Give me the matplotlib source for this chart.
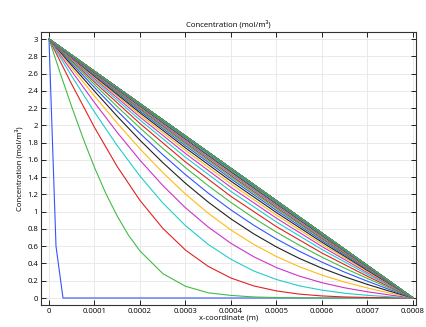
import matplotlib
matplotlib.use("Agg")
import matplotlib.pyplot as plt

# x positions (m)
x_start = [0, 0.0000154, 0.0000308, 0.0008]
x_first = [0, 0.000025, 0.00005, 0.000075, 0.0001, 0.000125, 0.00015, 0.000175, 0.0002,
           0.00025, 0.0003, 0.00035, 0.0004, 0.00045, 0.0005, 0.00055, 0.0006, 0.0008]
x_fine = [0, 0.00005, 0.0001, 0.00015, 0.0002, 0.00025, 0.0003, 0.00035, 0.0004,
          0.00045, 0.0005, 0.00055, 0.0006, 0.00065, 0.0007, 0.00075, 0.0008]
x_coarse = [0, 0.0001, 0.0002, 0.0003, 0.0004, 0.0005, 0.0006, 0.0007, 0.0008]
x_end = [0, 0.0008]

# concentration profiles (mol/m^3), one per output time
c00 = [3.0, 0.6, 0.0, 0.0]
c01 = [3.0, 2.60, 2.215, 1.849, 1.512, 1.21, 0.949, 0.725, 0.545, 0.283, 0.136, 0.06, 0.03, 0.012, 0.005, 0.002, 0.0, 0.0]
c02 = [3.0, 2.476, 1.976, 1.522, 1.130, 0.808, 0.555, 0.366, 0.231, 0.140, 0.082, 0.045, 0.024, 0.012, 0.006, 0.002, 0.0]
c03 = [3.0, 2.570, 2.155, 1.765, 1.412, 1.102, 0.838, 0.620, 0.448, 0.313, 0.214, 0.141, 0.091, 0.055, 0.031, 0.014, 0.0]
c04 = [3.0, 2.627, 2.264, 1.918, 1.596, 1.304, 1.045, 0.822, 0.633, 0.478, 0.352, 0.254, 0.177, 0.118, 0.072, 0.034, 0.0]
c05 = [3.0, 2.667, 2.340, 2.025, 1.728, 1.454, 1.204, 0.982, 0.788, 0.621, 0.480, 0.363, 0.265, 0.184, 0.116, 0.056, 0.0]
c06 = [3.0, 2.695, 2.396, 2.105, 1.828, 1.569, 1.329, 1.111, 0.916, 0.743, 0.591, 0.459, 0.345, 0.246, 0.157, 0.077, 0.0]
c07 = [3.0, 2.717, 2.439, 2.167, 1.907, 1.660, 1.429, 1.215, 1.020, 0.843, 0.684, 0.542, 0.415, 0.299, 0.194, 0.095, 0.0]
c08 = [3.0, 2.735, 2.473, 2.217, 1.970, 1.734, 1.510, 1.301, 1.106, 0.927, 0.762, 0.612, 0.473, 0.345, 0.226, 0.111, 0.0]
c09 = [3.0, 2.501, 2.021, 1.576, 1.177, 0.826, 0.521, 0.251, 0.0]
c10 = [3.0, 2.523, 2.062, 1.630, 1.235, 0.880, 0.562, 0.273, 0.0]
c11 = [3.0, 2.542, 2.096, 1.674, 1.282, 0.924, 0.596, 0.292, 0.0]
c12 = [3.0, 2.557, 2.123, 1.710, 1.321, 0.960, 0.623, 0.307, 0.0]
c13 = [3.0, 2.569, 2.146, 1.739, 1.353, 0.989, 0.646, 0.319, 0.0]
c14 = [3.0, 2.579, 2.165, 1.764, 1.380, 1.014, 0.665, 0.329, 0.0]
c15 = [3.0, 2.587, 2.180, 1.784, 1.401, 1.034, 0.680, 0.337, 0.0]
c16 = [3.0, 2.594, 2.193, 1.800, 1.419, 1.050, 0.693, 0.344, 0.0]
c17 = [3.0, 2.600, 2.203, 1.813, 1.433, 1.063, 0.703, 0.350, 0.0]
c18 = [3.0, 2.604, 2.211, 1.824, 1.445, 1.074, 0.711, 0.354, 0.0]
c19 = [3.0, 2.608, 2.218, 1.834, 1.455, 1.084, 0.718, 0.358, 0.0]
c20 = [3.0, 2.611, 2.224, 1.841, 1.463, 1.091, 0.724, 0.361, 0.0]
c21 = [3.0, 2.613, 2.229, 1.847, 1.470, 1.097, 0.729, 0.363, 0.0]
c22 = [3.0, 2.616, 2.233, 1.852, 1.475, 1.102, 0.733, 0.366, 0.0]
c23 = [3.0, 2.617, 2.236, 1.856, 1.480, 1.106, 0.736, 0.367, 0.0]
c24 = [3.0, 2.619, 2.238, 1.860, 1.483, 1.110, 0.738, 0.369, 0.0]
# later times are on the linear steady profile
c_settled = [3.0, 0.0]
n_settled = 26

x_ticks = [0, 0.0001, 0.0002, 0.0003, 0.0004, 0.0005, 0.0006, 0.0007, 0.0008]
x_labels = ["0", "0.0001", "0.0002", "0.0003", "0.0004", "0.0005", "0.0006", "0.0007", "0.0008"]
y_ticks = [0, 0.2, 0.4, 0.6, 0.8, 1, 1.2, 1.4, 1.6, 1.8, 2, 2.2, 2.4, 2.6, 2.8, 3]
y_labels = ["0", "0.2", "0.4", "0.6", "0.8", "1", "1.2", "1.4", "1.6", "1.8", "2",
            "2.2", "2.4", "2.6", "2.8", "3"]

colors = ["#3355ff", "#44bb44", "#e02222", "#22cccc", "#cc33cc", "#ffbb11", "#222222"]

profiles = [(x_start, c00), (x_first, c01)]
profiles += [(x_fine, c) for c in (c02, c03, c04, c05, c06, c07, c08)]
profiles += [(x_coarse, c) for c in (c09, c10, c11, c12, c13, c14, c15, c16,
                                     c17, c18, c19, c20, c21, c22, c23, c24)]
profiles += [(x_end, c_settled)] * n_settled

plt.rcParams["font.family"] = ["Open Sans", "DejaVu Sans"]
plt.rcParams["font.size"] = 5.6

fig = plt.figure(figsize=(4.26, 3.27), dpi=100)
ax = fig.add_axes([0.0962, 0.0673, 0.8803, 0.8347])

for i, (xs, cs) in enumerate(profiles):
    ax.plot(xs, cs, color=colors[i % len(colors)], lw=0.8)

ax.set_xlim(-0.0000176, 0.0008066)
ax.set_ylim(-0.081, 3.081)
ax.set_xticks(x_ticks)
ax.set_xticklabels(x_labels)
ax.set_yticks(y_ticks)
ax.set_yticklabels(y_labels)
ax.tick_params(direction="in", top=True, right=True, length=3.5, width=0.6, pad=2)
ax.grid(True, color="#e6e6e6", lw=0.6)
ax.set_axisbelow(True)
for s in ax.spines.values():
    s.set_linewidth(0.8)
    s.set_color("#333333")

ax.set_title("Concentration (mol/m³)", fontsize=5.6, pad=4)
ax.set_xlabel("x-coordinate (m)", labelpad=0)
ax.set_ylabel("Concentration (mol/m³)", labelpad=3)

fig.savefig("out.png", dpi=100)
